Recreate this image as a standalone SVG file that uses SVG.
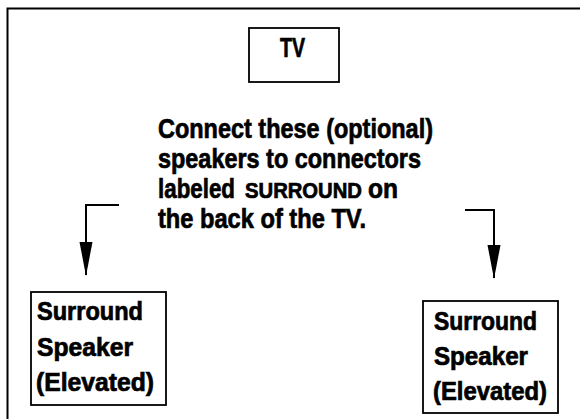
<svg xmlns="http://www.w3.org/2000/svg" width="580" height="419" viewBox="0 0 580 419">
<style>
.box{fill:#fff;stroke:#000;stroke-width:1.8}
.t{font-family:"Liberation Sans",Arial,sans-serif;font-weight:bold;fill:#000;stroke:#000;stroke-width:0.7}
.line{fill:none;stroke:#000;stroke-width:2}
</style>
<defs>
<marker id="ah" markerUnits="userSpaceOnUse" markerWidth="34" markerHeight="16" viewBox="0 0 34 16" refX="33" refY="8" orient="auto">
<path d="M0,1.5 L34,8 L0,14.5 Z" fill="#000"/>
</marker>
</defs>
<rect width="580" height="419" fill="#fff"/>
<path d="M7.5,419 V8.5 H580" fill="none" stroke="#000" stroke-width="2"/>
<g id="tv">
<rect class="box" x="249" y="28" width="90" height="54"/>
<text class="t" x="280" y="57" font-size="27" textLength="25" lengthAdjust="spacingAndGlyphs">TV</text>
</g>
<g id="note">
<text class="t" font-size="28" x="158" y="138" textLength="275" lengthAdjust="spacingAndGlyphs">Connect these (optional)</text>
<text class="t" font-size="28" x="158" y="168" textLength="263" lengthAdjust="spacingAndGlyphs">speakers to connectors</text>
<text class="t" font-size="28" x="158" y="198" textLength="77" lengthAdjust="spacingAndGlyphs">labeled</text>
<text class="t" font-size="22" x="245" y="198" textLength="117" lengthAdjust="spacingAndGlyphs">SURROUND</text>
<text class="t" font-size="28" x="368" y="198" textLength="30" lengthAdjust="spacingAndGlyphs">on</text>
<text class="t" font-size="28" x="158" y="228" textLength="208" lengthAdjust="spacingAndGlyphs">the back of the TV.</text>
</g>
<g id="speaker-left">
<rect class="box" x="31" y="292" width="135" height="113"/>
<text class="t" font-size="25" x="37" y="320" textLength="106" lengthAdjust="spacingAndGlyphs">Surround</text>
<text class="t" font-size="25" x="37" y="356" textLength="96" lengthAdjust="spacingAndGlyphs">Speaker</text>
<text class="t" font-size="25" x="36" y="391" textLength="118" lengthAdjust="spacingAndGlyphs">(Elevated)</text>
</g>
<g id="speaker-right">
<rect class="box" x="423" y="301" width="135" height="112"/>
<text class="t" font-size="25" x="434" y="330" textLength="103" lengthAdjust="spacingAndGlyphs">Surround</text>
<text class="t" font-size="25" x="434" y="365" textLength="94" lengthAdjust="spacingAndGlyphs">Speaker</text>
<text class="t" font-size="25" x="433" y="400" textLength="114" lengthAdjust="spacingAndGlyphs">(Elevated)</text>
</g>
<g id="connectors">
<path class="line" d="M119,205 H86 V275" marker-end="url(#ah)"/>
<path class="line" d="M465,210 H494 V278" marker-end="url(#ah)"/>
</g>
</svg>
